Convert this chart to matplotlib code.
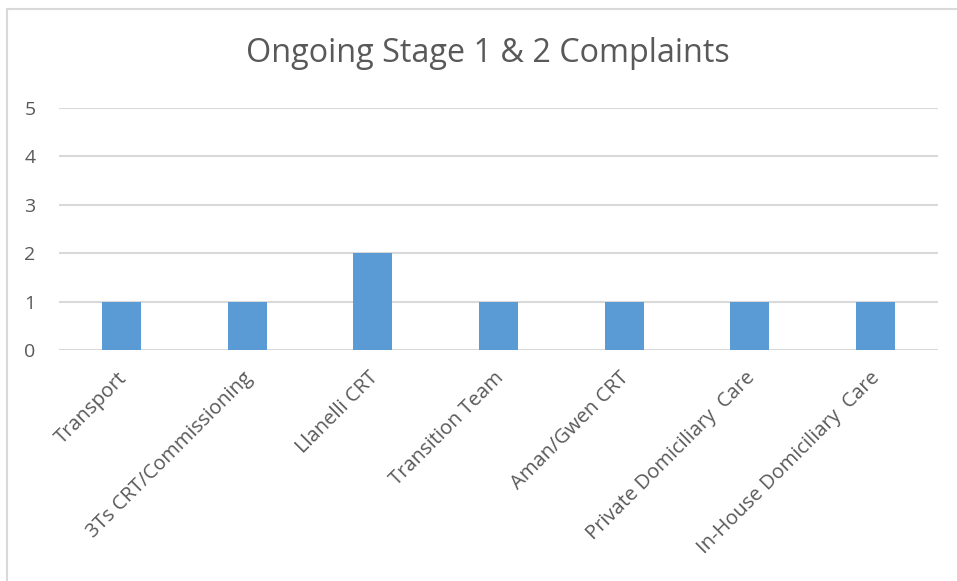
import matplotlib.pyplot as plt
import matplotlib.patches as patches
import matplotlib.transforms as mtransforms
import numpy as np

categories = ['Transport', '3Ts CRT/Commissioning', 'Llanelli CRT', 'Transition Team',
              'Aman/Gwen CRT', 'Private Domiciliary  Care', 'In-House Domiciliary  Care']
complaints = [1, 1, 2, 1, 1, 1, 1]
yticks = [0, 1, 2, 3, 4, 5]

plt.rcParams['font.family'] = ['Open Sans', 'DejaVu Sans']
txt = '#595959'
grid = '#D9D9D9'

fig = plt.figure(figsize=(9.57, 5.81), dpi=100)
ax = fig.add_axes([59/957, 1 - 350/581, (938 - 59)/957, (350 - 108)/581])

x = np.arange(len(categories))
ax.bar(x, complaints, width=0.31, color='#5B9BD5', zorder=3)

ax.set_xlim(-0.5, len(categories) - 0.5)
ax.set_ylim(0, 5)
ax.set_yticks(yticks)
ax.set_yticklabels([str(v) for v in yticks], color=txt, fontsize=14)
ax.set_xticks(x)
ax.set_xticklabels(categories, rotation=45, ha='right', rotation_mode='anchor',
                   color=txt, fontsize=14.5)
ax.tick_params(axis='both', length=0)
ax.tick_params(axis='x', pad=13)
ax.tick_params(axis='y', pad=17)
ax.grid(axis='y', color=grid, linewidth=1.5, zorder=0)
for s in ax.spines.values():
    s.set_visible(False)

# nudge category labels a little to the left
shift = mtransforms.ScaledTranslation(-5/100, 0, fig.dpi_scale_trans)
for lab in ax.get_xticklabels():
    lab.set_transform(lab.get_transform() + shift)

fig.text(488/957, 1 - 54/581, 'Ongoing Stage 1 & 2 Complaints', ha='center', va='center',
         fontsize=23.3, color=txt)

# chart border (top and left visible, rest cut off)
fig.patches.append(patches.Rectangle((7/957, -0.1), 1.2, 1 - 9/581 + 0.1,
                                     transform=fig.transFigure, fill=False,
                                     edgecolor=grid, linewidth=1.5))

fig.savefig('out.png', dpi=100)
